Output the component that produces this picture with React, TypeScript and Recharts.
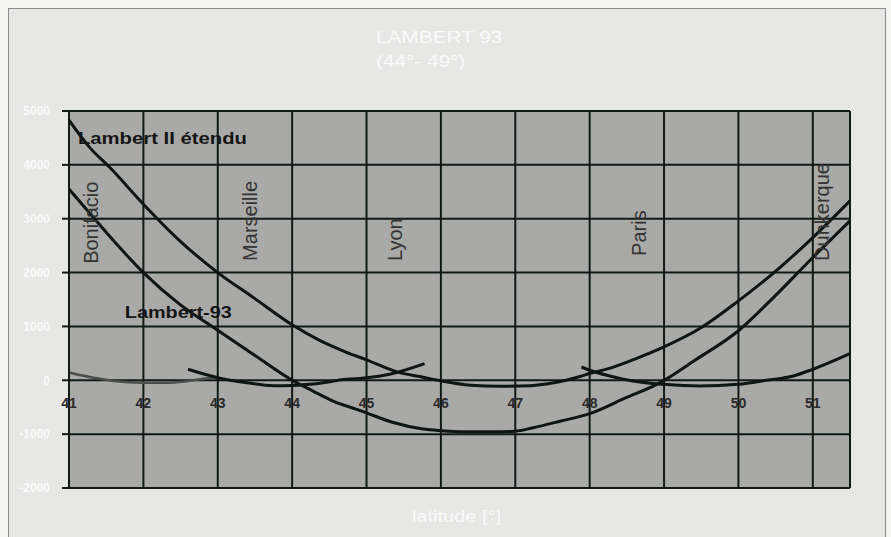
import { LineChart, Line, XAxis, YAxis, CartesianGrid, ReferenceLine, ReferenceDot } from 'recharts';

const FONT = '"Liberation Sans", Arial, sans-serif';

// axes
const LAT_TICKS = [41, 42, 43, 44, 45, 46, 47, 48, 49, 50, 51];
const VAL_TICKS = [5000, 4000, 3000, 2000, 1000, 0, -1000, -2000];

// Lambert II étendu
const l2eLat = [41, 41.28, 41.55, 42, 42.49, 43, 43.48, 44, 44.37, 44.73, 45, 45.4, 45.76, 46, 46.4, 46.8, 47.2, 47.42, 47.87, 48, 48.31, 48.6, 49, 49.48, 50, 50.47, 51, 51.5];
const l2eVal = [4830, 4320, 3950, 3270, 2590, 2000, 1535, 1030, 740, 520, 380, 160, 55, -10, -90, -110, -100, -70, 70, 125, 240, 390, 620, 960, 1474, 1990, 2650, 3333];

// Lambert-93
const l93Lat = [41, 41.33, 41.6, 42, 42.49, 43, 43.48, 44, 44.28, 44.55, 44.87, 45, 45.36, 45.76, 46, 46.3, 46.7, 47, 47.24, 47.6, 48, 48.49, 48.9, 49, 49.4, 50, 50.47, 51, 51.5];
const l93Val = [3550, 3020, 2590, 2000, 1410, 930, 480, 0, -200, -385, -540, -605, -785, -905, -935, -955, -955, -945, -880, -760, -620, -323, -75, 0, 359, 920, 1535, 2280, 2960];

// zone Lambert IV (Corse)
const z4Lat = [41.01, 41.33, 41.6, 42, 42.36, 42.76, 42.99];
const z4Val = [141, 48, -13, -44, -44, 18, 61];

// zone Lambert III
const z3Lat = [42.6, 43, 43.39, 43.75, 44, 44.28, 44.73, 45, 45.31, 45.78];
const z3Val = [204, 48, -44, -100, -95, -70, 18, 45, 112, 310];

// zone Lambert I
const z1Lat = [47.89, 48, 48.27, 48.58, 49, 49.48, 50, 50.38, 50.74, 51, 51.5];
const z1Val = [247, 186, 80, -13, -75, -106, -75, 0, 80, 204, 494];

// villes
const cityNames = ['Bonifacio', 'Marseille', 'Lyon', 'Paris', 'Dunkerque'];
const cityLat = [41.29, 43.43, 45.38, 48.66, 51.12];
const cityVal = [2162, 2217, 2217, 2310, 2217];

const pts = (lat: number[], val: number[]) => lat.map((x, i) => ({ lat: x, v: val[i] }));

function LatTick({ x, y, payload }: any) {
  return (
    <text x={x} y={y - 85} textAnchor="middle" dominantBaseline="central" fontSize={14} fontWeight="bold" fill="#2a2a2a" fontFamily={FONT}>
      {payload.value}
    </text>
  );
}

const cityLabel = (name: string) => (p: any) => {
  const vb = p.viewBox || p;
  const cx = vb.x + (vb.width || 0) / 2;
  const cy = vb.y + (vb.height || 0) / 2;
  return (
    <text x={cx} y={cy} transform={`rotate(-90 ${cx} ${cy})`} textAnchor="start" dominantBaseline="central"
      fontSize={20} fill="#333" fontFamily={FONT}>
      {name}
    </text>
  );
};

const seriesLabel = (name: string, len: number) => (p: any) => {
  const vb = p.viewBox || p;
  const cx = vb.x + (vb.width || 0) / 2;
  const cy = vb.y + (vb.height || 0) / 2;
  return (
    <text x={cx} y={cy} textAnchor="start" dominantBaseline="central" fontSize={17} fontWeight="bold" fill="#151515"
      fontFamily={FONT} textLength={len} lengthAdjust="spacingAndGlyphs">
      {name}
    </text>
  );
};

const lineProps = { dataKey: 'v', type: 'monotone' as const, dot: false, isAnimationActive: false, strokeWidth: 3 };

export default function App() {
  const white: React.CSSProperties = { position: 'absolute', color: '#fafafa', fontFamily: FONT, whiteSpace: 'nowrap' };
  return (
    <div style={{ position: 'absolute', left: 0, top: 0, width: 891, height: 537, background: '#f3f3f1', overflow: 'hidden' }}>
      <div style={{ position: 'absolute', left: 8, top: 8, width: 876, height: 540, background: '#e7e7e5', border: '1px solid #8c8c8c' }} />
      <div style={{ ...white, left: 376, top: 29, fontSize: 16, transform: 'scaleX(1.3)', transformOrigin: 'left top' }}>LAMBERT 93</div>
      <div style={{ ...white, left: 376, top: 53, fontSize: 16, transform: 'scaleX(1.3)', transformOrigin: 'left top' }}>(44°- 49°)</div>
      <div style={{ ...white, left: 412, top: 508, fontSize: 16, transform: 'scaleX(1.25)', transformOrigin: 'left top' }}>latitude [°]</div>
      <div style={{ position: 'absolute', left: 0, top: 0 }}>
        <LineChart width={891} height={537} margin={{ top: 111, right: 41, bottom: 29, left: 0 }}>
          <CartesianGrid stroke="#121a16" strokeWidth={2} fill="#a9a9a8" fillOpacity={1} />
          <XAxis dataKey="lat" type="number" domain={[41, 51.5]} ticks={LAT_TICKS} allowDataOverflow height={20}
            axisLine={false} tickLine={false} tickSize={0} tickMargin={0} tick={LatTick} interval={0} />
          <YAxis type="number" domain={[-2000, 5000]} ticks={VAL_TICKS} width={69} axisLine={false}
            tickSize={7} tickMargin={12} tickLine={{ stroke: '#121a16', strokeWidth: 2 }} interval={0}
            tick={{ fill: '#fafafa', fontSize: 12, fontWeight: 'bold', fontFamily: FONT }} />
          <ReferenceLine x={51.5} stroke="#121a16" strokeWidth={2} ifOverflow="visible" />
          <Line {...lineProps} data={pts(z4Lat, z4Val)} stroke="#4a4f4c" strokeWidth={2.5} />
          <Line {...lineProps} data={pts(z3Lat, z3Val)} stroke="#0e1512" />
          <Line {...lineProps} data={pts(z1Lat, z1Val)} stroke="#0e1512" />
          <Line {...lineProps} data={pts(l93Lat, l93Val)} stroke="#0e1512" />
          <Line {...lineProps} data={pts(l2eLat, l2eVal)} stroke="#0e1512" />
          {cityNames.map((n, i) => (
            <ReferenceDot key={n} x={cityLat[i]} y={cityVal[i]} r={1} fill="none" stroke="none" label={cityLabel(n)} />
          ))}
          <ReferenceDot x={41.12} y={4485} r={1} fill="none" stroke="none" label={seriesLabel('Lambert II étendu', 169)} />
          <ReferenceDot x={41.75} y={1256} r={1} fill="none" stroke="none" label={seriesLabel('Lambert-93', 107)} />
        </LineChart>
      </div>
    </div>
  );
}
